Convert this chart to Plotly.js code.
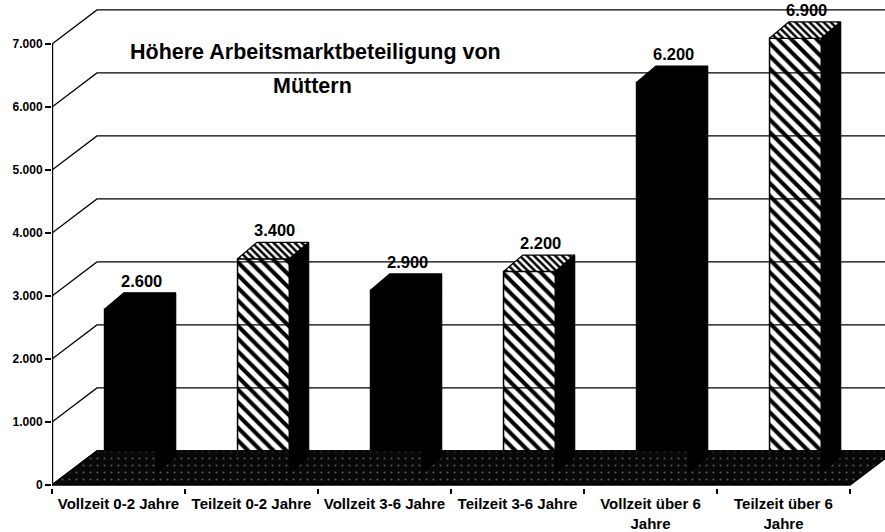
<!DOCTYPE html>
<html><head><meta charset="utf-8">
<script src="https://cdn.plot.ly/plotly-3.0.1.min.js"></script>
<style>html,body{margin:0;padding:0;background:#fff}</style>
</head><body><div id="chart" style="width:885px;height:532px"></div>
<script>
// ---- data ----
const categories = ['Vollzeit 0-2 Jahre','Teilzeit 0-2 Jahre','Vollzeit 3-6 Jahre','Teilzeit 3-6 Jahre','Vollzeit über 6<br>Jahre','Teilzeit über 6<br>Jahre'];
const values = [2600, 3400, 2900, 3200, 6200, 6900];
const valueLabels = ['2.600','3.400','2.900','2.200','6.200','6.900'];
const hatched = [false, true, false, true, false, true];
const tickValues = [0,1000,2000,3000,4000,5000,6000,7000];
const tickLabels = ['0','1.000','2.000','3.000','4.000','5.000','6.000','7.000'];
const titleLines = ['Höhere Arbeitsmarktbeteiligung von','Müttern'];

// ---- 3D look geometry (axis units) ----
const FF = -190;          // front floor level relative to bar base
const WALL_DX = 0.338, WALL_DY = 540;
const BAR_W = 0.39, BAR_OFF = -0.105;
const BAR_DX = 0.145, BAR_DY = 260;
const XMIN = -0.5, XMAX = 5.5 + 35/133;
const font = 'Liberation Sans, Arial, sans-serif';

const idx = categories.map((_, i) => i);
const traces = [];

// back wall grid lines
const wx = [], wy = [];
tickValues.forEach(t => {
  wx.push(-0.5, -0.5 + WALL_DX, XMAX + 1, null);
  wy.push(t + FF, t + FF + WALL_DY, t + FF + WALL_DY, null);
});
traces.push({type:'scatter', mode:'lines', x:wx, y:wy, line:{color:'#000', width:1.3}, hoverinfo:'skip'});

// floor
traces.push({type:'scatter', mode:'lines', fill:'toself',
  x:[-0.5, -0.5 + WALL_DX, 5.5 + WALL_DX, 5.5, -0.5],
  y:[FF, FF + WALL_DY, FF + WALL_DY, FF, FF],
  fillcolor:'#080808',
  fillpattern:{shape:'.', fgcolor:'#555', bgcolor:'#080808', size:7, solidity:0.08},
  line:{color:'#000', width:1.5}, hoverinfo:'skip'});

// bar front faces: solid (Vollzeit) and hatched (Teilzeit)
traces.push({type:'bar', x:idx, y:values.map((v, i) => hatched[i] ? null : v), width:BAR_W, offset:BAR_OFF,
  marker:{color:'#000', line:{color:'#000', width:1.5}}, hoverinfo:'skip'});
traces.push({type:'bar', x:idx, y:values.map((v, i) => hatched[i] ? v : null), width:BAR_W, offset:BAR_OFF,
  marker:{color:'#fff', line:{color:'#000', width:1.5},
    pattern:{shape:'\\', fgcolor:'#000', bgcolor:'#fff', fgopacity:1, size:9, solidity:0.45}},
  hoverinfo:'skip'});

// top and side faces
idx.forEach(i => {
  const v = values[i];
  const x0 = i + BAR_OFF, x1 = x0 + BAR_W;
  const top = {type:'scatter', mode:'lines', fill:'toself',
    x:[x0, x0 + BAR_DX, x1 + BAR_DX, x1, x0],
    y:[v, v + BAR_DY, v + BAR_DY, v, v],
    line:{color:'#000', width:1.2}, fillcolor: hatched[i] ? '#fff' : '#000', hoverinfo:'skip'};
  if (hatched[i]) top.fillpattern = {shape:'\\', fgcolor:'#000', bgcolor:'#fff', size:5, solidity:0.5};
  traces.push(top);
  traces.push({type:'scatter', mode:'lines', fill:'toself',
    x:[x1, x1 + BAR_DX, x1 + BAR_DX, x1, x1],
    y:[v, v + BAR_DY, BAR_DY, 0, v],
    line:{color:'#000', width:1.2}, fillcolor:'#000', hoverinfo:'skip'});
});

// y axis line
traces.push({type:'scatter', mode:'lines', x:[-0.5, -0.5], y:[FF, tickValues[tickValues.length-1] + FF],
  line:{color:'#000', width:2.4}, hoverinfo:'skip'});

const annotations = idx.map(i => ({
  x: i + 0.17, y: values[i] + BAR_DY, xanchor:'center', yanchor:'bottom', yshift:1, showarrow:false,
  text: valueLabels[i], font:{family:font, size:16.5, color:'#000', weight:'bold'}
}));
annotations.push({xref:'paper', yref:'paper', x:(315-52)/833, y:1 - 52/488, xanchor:'center', yanchor:'middle', showarrow:false,
  text:titleLines[0], font:{family:font, size:21.5, color:'#000', weight:'bold'}});
annotations.push({xref:'paper', yref:'paper', x:(312-52)/833, y:1 - 86/488, xanchor:'center', yanchor:'middle', showarrow:false,
  text:titleLines[1], font:{family:font, size:21.5, color:'#000', weight:'bold'}});

const layout = {
  width:885, height:532,
  margin:{l:52, r:0, t:0, b:44},
  paper_bgcolor:'#fff', plot_bgcolor:'#fff',
  showlegend:false, hovermode:false, barmode:'overlay',
  xaxis:{range:[XMIN, XMAX], tickmode:'array', tickvals:idx, ticktext:categories,
    ticks:'', showgrid:false, zeroline:false, showline:false,
    tickfont:{family:font, size:15, color:'#000', weight:'bold'}, ticklabelstandoff:5,
    minor:{tickmode:'array', tickvals:[-0.5,0.5,1.5,2.5,3.5,4.5,5.5], ticks:'outside', ticklen:5, tickwidth:1.5, tickcolor:'#000', showgrid:false}},
  yaxis:{range:[FF - 3/0.063, 473/0.063], tickmode:'array', tickvals:tickValues.map(t => t + FF), ticktext:tickLabels,
    ticks:'outside', ticklen:6, tickwidth:1.3, tickcolor:'#000', showgrid:false, zeroline:false, showline:false,
    tickfont:{family:font, size:12, color:'#000', weight:'bold'}},
  annotations
};
Plotly.newPlot('chart', traces, layout, {staticPlot:true, displayModeBar:false});
</script>
</body></html>
